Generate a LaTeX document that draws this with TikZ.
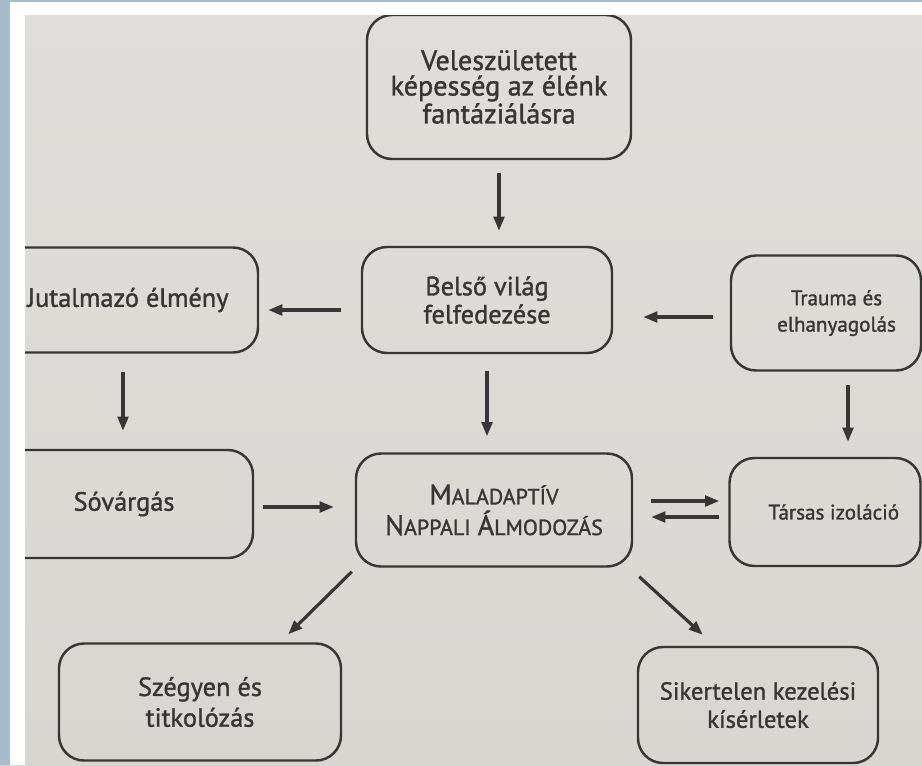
\documentclass[tikz,border=0pt]{standalone}
\usepackage{fontspec}
\setmainfont{PT Sans}
\newfontfamily\cardfont{PT Sans}[FakeBold=1.3]
\usepackage{tikz}
\usetikzlibrary{arrows.meta,calc}
\definecolor{ink}{HTML}{363636}
\definecolor{paper}{HTML}{D8D6D1}
\definecolor{paperhi}{HTML}{E0DEDA}
\definecolor{strip}{HTML}{A7BCCA}
\newcommand{\fakesc}[2]{{\fontsize{16}{18}\selectfont #1}{\fontsize{12.5}{18}\selectfont #2}}

\begin{document}
\begin{tikzpicture}[x=0.02cm,y=-0.02cm,
  card/.style 2 args={draw=ink,line width=1.4pt,rounded corners=0.5cm,align=center,
    minimum width=#1*0.02cm,minimum height=#2*0.02cm,text=ink,
    font=\cardfont\fontsize{15}{16}\selectfont},
  small/.style={font=\cardfont\fontsize{12}{15}\selectfont},
  link/.style={-{Triangle[length=8pt,width=6pt]},draw=ink,line width=1.8pt}]
  \useasboundingbox (0,0) rectangle (922,765);
  % photographed page
  \shade[top color=paperhi,bottom color=paper] (0,0) rectangle (922,765);

  % boxes
  \node[card={264}{144},font=\cardfont\fontsize{16}{14.5}\selectfont] (innate) at (499,87)
    {Veleszületett\\képesség az élénk\\fantáziálásra};
  \node[card={250}{106}] (inner) at (487,300) {Belső világ\\felfedezése};
  \node[card={260}{105}] (reward) at (128,300) {Jutalmazó élmény};
  \node[card={190}{115},small] (trauma) at (826,313) {\hspace*{12pt}Trauma és\\\hspace*{12pt}elhanyagolás};
  \node[card={258}{108}] (craving) at (124,504) {Sóvárgás};
  \node[card={276}{113},font=\cardfont\fontsize{15}{17.5}\selectfont] (mdd) at (494,510)
    {\fakesc{M}{ALADAPTÍV}\\\fakesc{N}{APPALI} \fakesc{Á}{LMODOZÁS}};
  \node[card={191}{108},small] (isol) at (825,512) {\hspace*{10pt}Társas izoláció};
  \node[card={282}{117},font=\cardfont\fontsize{15}{17.5}\selectfont] (shame) at (200,702) {Szégyen és\\titkolózás};
  \node[card={240}{116},font=\cardfont\fontsize{14}{16}\selectfont] (failed) at (758,705) {Sikertelen kezelési\\kísérletek};

  % connectors
  \draw[link,shorten <=13*0.02cm,shorten >=15*0.02cm] (innate.south) -- (innate.south |- inner.north);
  \draw[link,shorten <=20*0.02cm,shorten >=9*0.02cm] ($(inner.west)+(0,10)$) -- ($(reward.east)+(0,10)$);
  \draw[link,shorten <=17*0.02cm,shorten >=30*0.02cm] ($(trauma.west)+(0,4)$) -- ($(trauma.west -| inner.east)+(0,4)$);
  \draw[link,shorten <=18*0.02cm,shorten >=18*0.02cm] ($(reward.south)+(-5,0)$) -- ($(reward.south |- craving.north)+(-5,0)$);
  \draw[link,shorten <=17*0.02cm,shorten >=16*0.02cm] (inner.south) -- (inner.south |- mdd.north);
  \draw[link,shorten <=13*0.02cm,shorten >=15*0.02cm] ($(trauma.south)+(22,0)$) -- ($(trauma.south |- isol.north)+(22,0)$);
  \draw[link,shorten <=9*0.02cm,shorten >=21*0.02cm] ($(craving.east)+(0,3)$) -- ($(craving.east -| mdd.west)+(0,3)$);
  \draw[link,shorten <=18*0.02cm,shorten >=9*0.02cm] ($(mdd.east)+(0,-9)$) -- ($(mdd.east -| isol.west)+(0,-9)$);
  \draw[link,shorten <=9*0.02cm,shorten >=18*0.02cm] ($(mdd.east -| isol.west)+(0,7)$) -- ($(mdd.east)+(0,7)$);
  \draw[link] ($(mdd.south west)+(-3,4)$) -- ($(shame.north east)+(-54,-8)$);
  \draw[link] ($(mdd.south east)+(6,9)$) -- ($(failed.north west)+(66,-11)$);

  % frame of the photo
  \fill[white] (0,0) rectangle (922,15);
  \fill[white] (0,0) rectangle (25,765);
  \fill[strip] (0,0) rectangle (922,2);
  \fill[strip] (0,0) rectangle (10,765);
\end{tikzpicture}
\end{document}
